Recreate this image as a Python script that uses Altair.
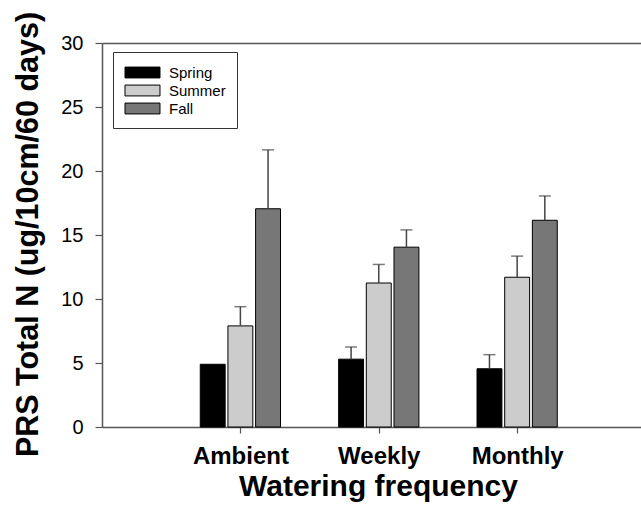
import json
import altair as alt
import pandas as pd

# ---- data ----
treatments = ["Ambient", "Weekly", "Monthly"]
seasons = ["Spring", "Summer", "Fall"]
spring = [4.9, 5.3, 4.55]
summer = [7.9, 11.25, 11.7]
fall = [17.05, 14.05, 16.15]
spring_err = [0.0, 0.95, 1.1]
summer_err = [1.5, 1.45, 1.65]
fall_err = [4.6, 1.35, 1.9]
season_colors = ["#000000", "#cccccc", "#777777"]
y_ticks = [0, 5, 10, 15, 20, 25, 30]

rows = []
for si, (s, vals, errs) in enumerate(
    zip(seasons, [spring, summer, fall], [spring_err, summer_err, fall_err])
):
    for gi, t in enumerate(treatments):
        rows.append(dict(treatment=t, season=s, value=vals[gi], err=errs[gi],
                         g=gi + 1, si=si))
df = pd.DataFrame(rows)

FONT = "Liberation Sans"
AX = "#555555"

x_scale = alt.Scale(domain=[0, 3.895], nice=False, zero=False)
y_scale = alt.Scale(domain=[0, 30], nice=False)

y_axis = alt.Axis(
    values=y_ticks, grid=False, title="PRS Total N (ug/10cm/60 days)",
    titleFont=FONT, titleFontSize=30.5, titleFontWeight="bold", titleColor="black",
    titleAngle=270, titleX=-65, titleY=191, titleAlign="center",
    titleBaseline="alphabetic",
    labelFont=FONT, labelFontSize=20, labelColor="black", labelPadding=12,
    tickSize=7, tickColor=AX, tickWidth=1.2, domainColor=AX, domainWidth=1.5,
)

label_expr = json.dumps([""] + treatments) + "[datum.value]"
x_axis = alt.Axis(
    values=[1, 2, 3], labelExpr=label_expr, grid=False,
    title="Watering frequency", titleFont=FONT, titleFontSize=30,
    titleFontWeight="bold", titleColor="black", titleX=276, titleY=68,
    titleAlign="center", titleBaseline="alphabetic",
    labelFont=FONT, labelFontSize=24, labelFontWeight="bold", labelColor="black",
    labelPadding=11, tickSize=6, tickColor=AX, tickWidth=1.2,
    domainColor=AX, domainWidth=1.5,
)
top_axis = alt.Axis(orient="top", labels=False, ticks=False, grid=False,
                    title=None, domainColor=AX, domainWidth=1.5)

base = alt.Chart(df).transform_calculate(
    xc="datum.g + (datum.si - 1) * 0.2",
    x0="datum.g + (datum.si - 1) * 0.2 - 0.09",
    x1="datum.g + (datum.si - 1) * 0.2 + 0.09",
    top="datum.value + datum.err",
)

bars = base.mark_bar(stroke="black", strokeWidth=1, opacity=1).encode(
    x=alt.X("x0:Q", scale=x_scale, axis=x_axis),
    x2="x1:Q",
    y=alt.Y("value:Q", scale=y_scale, axis=y_axis),
    y2=alt.datum(0),
    color=alt.Color(
        "season:N",
        scale=alt.Scale(domain=seasons, range=season_colors),
        legend=alt.Legend(
            title=None, orient="none", legendX=11, legendY=9, direction="vertical",
            strokeColor="#333333", fillColor="white", padding=11,
            symbolType="M-2,-0.62H2V0.62H-2Z", symbolSize=306,
            symbolOffset=9, symbolStrokeColor="black", symbolStrokeWidth=1,
            symbolOpacity=1, rowPadding=-1,
            labelFont=FONT, labelFontSize=15, labelColor="black", labelOffset=17,
        ),
    ),
)

err_rules = base.transform_filter("datum.err > 0").mark_rule(
    color="#444444", strokeWidth=1.5
).encode(
    x=alt.X("xc:Q", scale=x_scale, axis=None),
    y=alt.Y("value:Q", scale=y_scale, axis=y_axis),
    y2="top:Q",
)

caps = base.transform_filter("datum.err > 0").mark_tick(
    orient="horizontal", color="#444444", size=12, thickness=1.5
).encode(
    x=alt.X("xc:Q", scale=x_scale, axis=top_axis),
    y=alt.Y("top:Q", scale=y_scale, axis=y_axis),
)

chart = (
    alt.layer(bars, err_rules, caps)
    .resolve_axis(x="independent")
    .properties(
        width=539, height=384,
        autosize=alt.AutoSizeParams(type="none"),
        padding={"left": 102, "top": 43, "right": 0, "bottom": 98},
        background="white",
    )
    .configure_view(stroke=None)
    .configure(font=FONT)
)

chart.save("out.html", embed_options={"renderer": "svg", "actions": False})
